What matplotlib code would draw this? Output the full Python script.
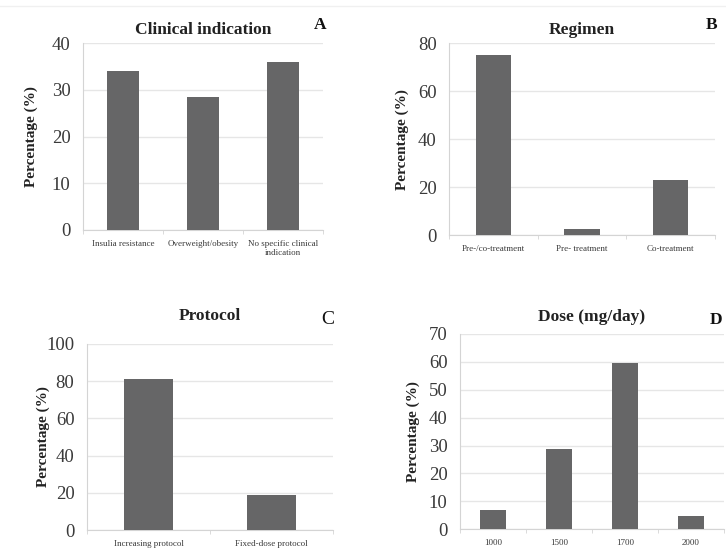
import matplotlib
matplotlib.use("Agg")
import matplotlib.pyplot as plt
from matplotlib.lines import Line2D
import numpy as np

plt.rcParams["font.family"] = ["Liberation Serif", "DejaVu Serif"]

# Panel A: clinical indication
indication_labels = ["Insulia resistance", "Overweight/obesity",
                     "No specific clinical\nindication"]
indication_values = [34.1, 28.6, 36.1]

# Panel B: regimen
regimen_labels = ["Pre-/co-treatment", "Pre- treatment", "Co-treatment"]
regimen_values = [75.0, 2.4, 23.0]

# Panel C: protocol
protocol_labels = ["Increasing protocol", "Fixed-dose protocol"]
protocol_values = [81.3, 19.0]

# Panel D: dose (mg/day)
dose_labels = ["1000", "1500", "1700", "2000"]
dose_values = [6.8, 28.9, 59.7, 4.9]

BAR_COLOR = "#666667"
GRID_COLOR = "#e6e6e6"
SPINE_COLOR = "#d4d4d4"
TEXT_COLOR = "#3a3a3a"


def draw_panel(fig, rect, labels, values, ymax, ystep, title, letter,
               letter_xy, label_x, letter_bold=True, title_y=1.06):
    ax = fig.add_axes(rect)
    x = np.arange(len(values))
    ax.bar(x, values, width=0.4, color=BAR_COLOR, zorder=3)
    ax.set_xlim(-0.5, len(values) - 0.5)
    ax.set_ylim(0, ymax)
    ax.set_yticks(np.arange(0, ymax + 1, ystep))
    ax.yaxis.grid(True, color=GRID_COLOR, linewidth=1, zorder=0)
    ax.tick_params(axis="y", length=0, pad=9, labelsize=13.5,
                   labelcolor=TEXT_COLOR)
    # category labels centred on bars, small tick marks at category boundaries
    ax.set_xticks(x)
    ax.set_xticklabels(labels, fontsize=6.5, color=TEXT_COLOR)
    ax.tick_params(axis="x", length=0, pad=7)
    ax.set_xticks(np.arange(-0.5, len(values)), minor=True)
    ax.tick_params(axis="x", which="minor", length=3, color=SPINE_COLOR)
    for side in ("top", "right"):
        ax.spines[side].set_visible(False)
    ax.spines["left"].set_color(SPINE_COLOR)
    ax.spines["bottom"].set_color(SPINE_COLOR)
    ax.set_ylabel("Percentage (%)", fontsize=11, fontweight="bold",
                  color="#222222")
    ax.yaxis.set_label_coords(label_x, 0.5)
    ax.text(0.5, title_y, title, transform=ax.transAxes, ha="center",
            va="center", fontsize=12.5, fontweight="bold", color="#222222")
    fig.text(letter_xy[0], letter_xy[1], letter, ha="center", va="center",
             fontsize=12.5 if letter_bold else 14,
             fontweight="bold" if letter_bold else "normal", color="#111111")
    return ax


def main():
    fig = plt.figure(figsize=(7.26, 5.51), dpi=100)

    # faint page rule across the top
    fig.add_artist(Line2D([0.0, 1.0], [0.989, 0.989], color="#f0f0f0",
                          linewidth=1, transform=fig.transFigure))

    draw_panel(fig, [0.1143, 0.5826, 0.3306, 0.3388], indication_labels,
               indication_values, 40, 10, "Clinical indication", "A",
               (320 / 726, 1 - 25 / 551), (38 - 83) / 240, title_y=1.07)
    draw_panel(fig, [0.6185, 0.5735, 0.3664, 0.3479], regimen_labels,
               regimen_values, 80, 20, "Regimen", "B",
               (712 / 726, 1 - 25 / 551), (409 - 449) / 266, title_y=1.07)
    draw_panel(fig, [0.1198, 0.0381, 0.3388, 0.3376], protocol_labels,
               protocol_values, 100, 20, "Protocol", "C",
               (328 / 726, 1 - 320 / 551), (50 - 87) / 246,
               letter_bold=False, title_y=1.15)
    draw_panel(fig, [0.6336, 0.0394, 0.3636, 0.3545], dose_labels,
               dose_values, 70, 10, "Dose (mg/day)", "D",
               (716 / 726, 1 - 320 / 551), (420 - 460) / 264, title_y=1.085)

    fig.savefig("out.png", dpi=100)
    plt.close(fig)


if __name__ == "__main__":
    main()
